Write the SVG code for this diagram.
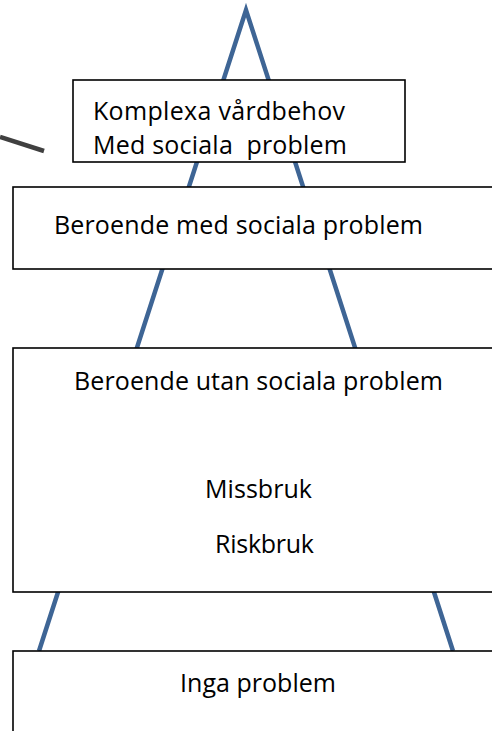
<svg xmlns="http://www.w3.org/2000/svg" width="492" height="731" viewBox="0 0 492 731">
<style>
.box{fill:#ffffff;stroke:#000000;stroke-width:1.6}
.tri{fill:none;stroke:#3e6595;stroke-width:4.5;stroke-linejoin:miter;stroke-miterlimit:10}
.stray{stroke:#404040;stroke-width:4.5}
text{font-family:"Open Sans","Noto Sans","Liberation Sans",sans-serif;font-size:25px;fill:#000000}
</style>
<rect x="0" y="0" width="492" height="731" fill="#ffffff"/>
<g id="connectors">
<polyline class="tri" points="39,651 246,10 453,651"/>
<line class="stray" x1="0" y1="137" x2="44" y2="151"/>
</g>
<g id="node-inga">
<rect class="box" x="13" y="651" width="490" height="90"/>
<text x="180" y="692" textLength="156">Inga problem</text>
</g>
<g id="node-utan">
<rect class="box" x="13" y="348" width="490" height="244"/>
<text x="74" y="390" textLength="369">Beroende utan sociala problem</text>
<text x="205" y="498" textLength="107">Missbruk</text>
<text x="215" y="553" textLength="99">Riskbruk</text>
</g>
<g id="node-med">
<rect class="box" x="13" y="187" width="490" height="82"/>
<text x="54" y="234" textLength="369">Beroende med sociala problem</text>
</g>
<g id="node-komplexa">
<rect class="box" x="73" y="80" width="332" height="82"/>
<text x="93" y="120" textLength="252">Komplexa vårdbehov</text>
<text x="93" y="154" textLength="254" xml:space="preserve">Med sociala  problem</text>
</g>
</svg>
